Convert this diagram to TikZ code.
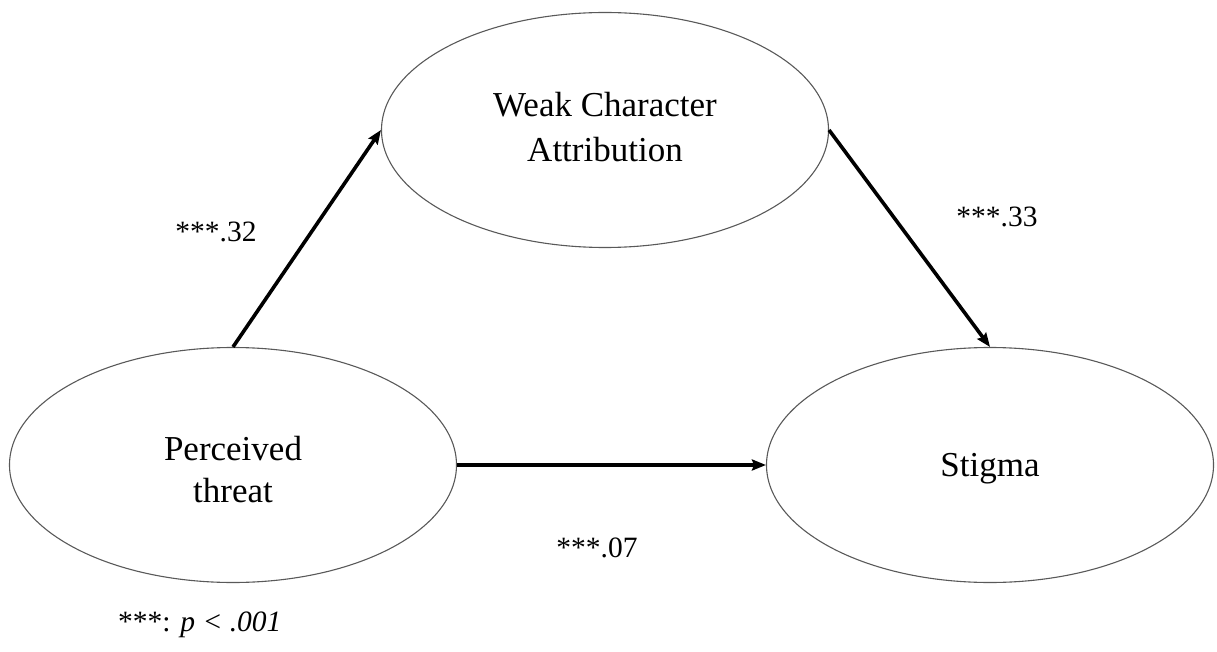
\documentclass[tikz,border=0pt]{standalone}
\usepackage{fontspec}
\setmainfont{Liberation Serif}
\usetikzlibrary{shapes.geometric,arrows.meta}
% lower a node's text without changing the box TikZ centres
\newcommand{\lowertext}[2]{\raisebox{-#1}[\height][\depth]{#2}}
\begin{document}
\begin{tikzpicture}[x=1pt,y=-1pt,
  latent/.style={ellipse,draw=black!65,line width=1.1pt,inner sep=0pt,
    minimum width=447pt,minimum height=235pt,
    font=\fontsize{35}{42}\selectfont},
  path/.style={line width=3.6pt,-{Stealth[length=14pt,width=11pt,inset=2pt]}},
  coef/.style={font=\fontsize{29.5}{34}\selectfont,inner sep=0pt}]
\useasboundingbox (0,0) rectangle (1217,652);
% latent constructs
\node[latent] (wca) at (605,130)
  {\lowertext{1pt}{\begin{tabular}{@{}c@{}}Weak Character\\[3pt]Attribution\end{tabular}}};
\node[latent] (pt) at (233,465)
  {\lowertext{8pt}{\begin{tabular}{@{}c@{}}Perceived\\threat\end{tabular}}};
\node[latent] (st) at (990,465) {\lowertext{4pt}{Stigma}};
% structural paths
\draw[path] (pt.north) -- (wca.west);
\draw[path] (wca.east) -- (st.north);
\draw[path] (pt.east) -- (st.west);
% path coefficients
\node[coef] (c32) at (216,232) {***.32};
\node[coef] (c33) at (997,217) {***.33};
\node[coef] (c07) at (597,548) {***.07};
\node[coef,anchor=west] (note) at (118,625) {***: \textit{p < .001}};
\end{tikzpicture}
\end{document}
